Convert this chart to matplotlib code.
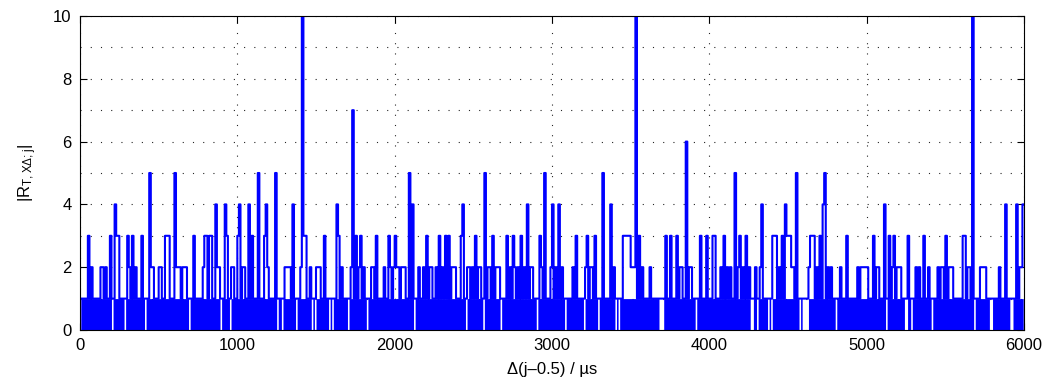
import numpy as np
import matplotlib.pyplot as plt
from matplotlib.ticker import MultipleLocator

plt.rcParams['font.family'] = ['Liberation Sans', 'DejaVu Sans']
plt.rcParams['mathtext.default'] = 'regular'

delta = 10.0   # lag step in us
n_lag = 600

# lag index k (x = delta*(k+0.5)) and |R| where the trace rises above 1
peak_k = [5, 7, 13, 14, 16, 19, 22, 23, 24, 30, 31, 33, 35, 39, 44, 45, 46, 50, 51,
          54, 55, 56, 60, 61, 62, 63, 65, 66, 67, 72, 78, 79, 80, 82, 83, 86, 87, 88,
          92, 93, 96, 97,
          100, 101, 103, 104, 107, 109, 113, 117, 118, 119, 124, 130, 131, 132, 133,
          135, 140, 141, 142, 143, 146, 150, 151, 152, 155, 163, 164, 166, 172, 173,
          175, 177, 178, 180, 185, 186, 188, 193, 196, 197, 199,
          200, 201, 202, 204, 205, 206, 209, 211, 215, 218, 220, 222, 223, 226, 228,
          230, 232, 234, 236, 237, 238, 242, 243, 246, 247, 249, 251, 253, 254, 257,
          259, 260, 262, 264, 265, 266, 271, 273, 275, 276, 278, 280, 282, 284, 286,
          287, 292, 293, 295, 299,
          300, 302, 304, 306, 313, 315, 321, 322, 324, 325, 327, 332, 337, 339, 345,
          346, 347, 348, 349, 350, 351, 352, 353, 355, 357, 362, 372, 375, 379, 381,
          382, 385, 387, 388, 394, 398,
          402, 403, 407, 409, 411, 413, 416, 418, 419, 421, 423, 425, 429, 432, 433,
          440, 441, 442, 444, 446, 448, 449, 450, 451, 452, 453, 455, 463, 464, 465,
          466, 468, 470, 472, 473, 475, 477, 483, 487, 494, 496, 497, 498, 499, 500,
          504, 506, 507, 511, 514, 516, 517, 519, 520, 521, 526, 531, 533, 536, 539,
          545, 547, 548, 550, 552, 553, 554, 561, 562, 564, 565, 567, 572, 573, 574,
          575, 584, 588, 595, 597, 598, 599]
peak_r = [3, 2, 2, 2, 2, 3, 4, 3, 3, 3, 2, 3, 2, 3, 5, 2, 2, 2, 2,
          3, 3, 3, 5, 2, 2, 2, 2, 2, 2, 3, 2, 3, 3, 3, 3, 4, 2, 2,
          4, 3, 2, 2,
          3, 4, 2, 2, 4, 3, 5, 3, 4, 2, 5, 2, 2, 2, 2,
          4, 2, 10, 3, 3, 2, 2, 2, 2, 3, 4, 3, 2, 2, 7,
          3, 2, 3, 2, 2, 2, 3, 2, 3, 2, 2,
          3, 2, 2, 2, 2, 2, 5, 4, 2, 2, 3, 2, 2, 2, 3,
          2, 3, 3, 2, 2, 2, 3, 4, 2, 2, 2, 3, 2, 2, 5,
          2, 2, 3, 2, 2, 2, 3, 2, 3, 2, 2, 3, 2, 4, 2,
          2, 3, 2, 5, 2,
          4, 2, 4, 2, 2, 3, 2, 3, 2, 2, 3, 5, 4, 2, 3,
          3, 3, 3, 3, 2, 2, 2, 10, 3, 2, 2, 3, 3, 3, 2,
          2, 6, 2, 2, 3, 3,
          3, 3, 2, 3, 2, 2, 5, 2, 3, 2, 3, 2, 2, 2, 4,
          3, 3, 3, 2, 3, 4, 3, 3, 3, 2, 2, 5, 2, 3, 3,
          3, 2, 3, 4, 5, 2, 2, 2, 3, 2, 2, 2, 2, 2, 2,
          3, 2, 2, 4, 3, 2, 3, 2, 2, 2, 3, 2, 2, 3, 2,
          2, 2, 2, 3, 2, 2, 2, 3, 3, 2, 2, 10, 2, 2, 2,
          2, 2, 4, 4, 2, 2, 4]

# lags where the trace sits at 1 and never drops to 0 (white slivers)
flat_k = [20, 28, 41, 69, 89, 95,
          125, 128, 137, 147, 149, 158, 160, 170, 182,
          212, 245, 256, 267, 290,
          308, 320, 329, 340, 342, 368, 369, 370, 391,
          426, 427, 430, 437, 439, 457, 459, 460, 461, 462, 480,
          512, 524, 525, 528, 541, 568, 578, 579, 591, 592]

x = delta * (np.arange(n_lag) + 0.5)
r = np.ones(n_lag)
r[peak_k] = peak_r
floor = np.minimum(r, 1)
floor[flat_k] = 0

fig = plt.figure(figsize=(10.56, 3.91), dpi=100)
ax = fig.add_axes([80/1056, 1 - 330/391, 944/1056, 314/391])

ax.fill_between(x, 0, floor, step='mid', color='b', lw=0)
ax.plot(x, r, drawstyle='steps-mid', color='b', lw=1.5)

ax.set_xlim(0, 6000)
ax.set_ylim(0, 10)
ax.xaxis.set_major_locator(MultipleLocator(1000))
ax.yaxis.set_major_locator(MultipleLocator(2))
ax.yaxis.set_minor_locator(MultipleLocator(1))
ax.tick_params(which='major', direction='in', length=5, width=0.8,
               top=True, right=True, labelsize=12, pad=6)
ax.tick_params(which='minor', length=0)
ax.set_axisbelow(True)
ax.grid(True, which='both', color='k', lw=0.8, ls=(0, (1, 8.2)), alpha=0.85)
ax.grid(False, which='minor', axis='x')
for s in ax.spines.values():
    s.set_linewidth(0.8)

ax.set_xlabel('\u0394(j\u20130.5) / \u00b5s', fontsize=12, labelpad=6)
ax.set_ylabel(r'$|R_{T,X\Delta;j}|$', fontsize=12, labelpad=10)

fig.savefig('out.png', dpi=100)
